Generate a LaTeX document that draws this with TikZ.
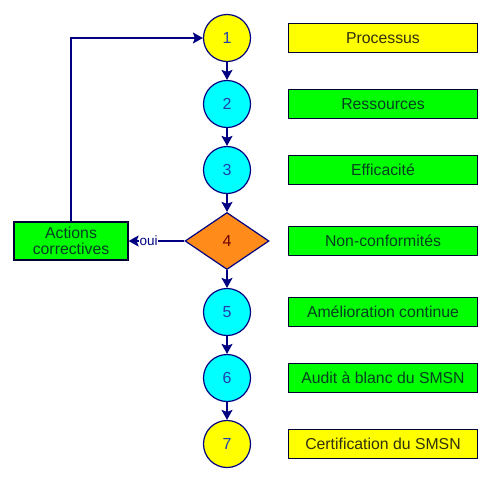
\documentclass[tikz,border=0pt]{standalone}
\usepackage{fontspec}
\setmainfont{Liberation Sans}
\usetikzlibrary{shapes.geometric,arrows.meta}

\definecolor{flowblue}{HTML}{000080}
\definecolor{stepyellow}{HTML}{FFFF00}
\definecolor{stepcyan}{HTML}{00FFFF}
\definecolor{steporange}{HTML}{FF8C1A}
\definecolor{stepgreen}{HTML}{00FF00}
\definecolor{numblue}{HTML}{2040B0}
\definecolor{numred}{HTML}{700000}
\definecolor{labgreen}{HTML}{004020}
\definecolor{labdark}{HTML}{303010}

\begin{document}
\begin{tikzpicture}[x=1pt,y=1pt,->,>={Stealth[length=10pt,width=11pt,inset=2pt]},line width=1.4pt,draw=flowblue,node distance=66pt,
    step node/.style={circle,draw=flowblue,line width=1.2pt,minimum size=47pt,inner sep=0pt,font=\fontsize{16}{19}\selectfont,text=numblue},
    test node/.style={diamond,draw=flowblue,line width=1.2pt,fill=steporange,minimum width=84pt,minimum height=57pt,inner sep=0pt,font=\fontsize{16}{19}\selectfont,text=numred},
    label box/.style={rectangle,draw=black!80!blue,line width=1.2pt,minimum width=189pt,minimum height=29pt,inner sep=0pt,font=\fontsize{15.8}{18}\selectfont,text=labgreen,fill=stepgreen}]
            \useasboundingbox (0,0) rectangle (500,-483);

            \node[step node,fill=stepyellow] (1) at (227,-38) {1};
            \node[step node,fill=stepcyan] (2) [below of=1] {2};
            \node[step node,fill=stepcyan] (3) [below of=2] {3};
            \node[test node] (4) [below of=3,node distance=71pt] {4};
            \node[step node,fill=stepcyan] (5) [below of=4,node distance=71pt] {5};
            \node[step node,fill=stepcyan] (6) [below of=5] {6};
            \node[step node,fill=stepyellow] (7) [below of=6] {7};

            \node[label box,fill=stepyellow,text=labdark] (p1) [right of=1,node distance=156pt] {Processus};
            \node[label box] (p2) [right of=2,node distance=156pt] {Ressources};
            \node[label box] (p3) [right of=3,node distance=156pt] {Efficacité};
            \node[label box] (p4) [right of=4,node distance=156pt] {Non-conformités};
            \node[label box] (p5) [right of=5,node distance=156pt] {Amélioration continue};
            \node[label box] (p6) [right of=6,node distance=156pt] {Audit à blanc du SMSN};
            \node[label box,fill=stepyellow,text=labdark] (p7) [right of=7,node distance=156pt] {Certification du SMSN};

            \node[label box,minimum width=114pt,minimum height=38pt,align=center,font=\fontsize{15.8}{16.5}\selectfont] (act) [left of=4,node distance=156pt] {Actions\\correctives};

            \path[draw=flowblue]
                (1) edge (2)
                (2) edge (3)
                (3) edge (4)
                (4) edge (5)
                (5) edge (6)
                (6) edge (7)
                (4) edge node[pos=0.64,fill=white,inner sep=0.5pt,text=flowblue,font=\fontsize{13.5}{15}\selectfont] {oui} (act)
                ;
            \draw (act.north) |- (1.west);
        \end{tikzpicture}
\end{document}
